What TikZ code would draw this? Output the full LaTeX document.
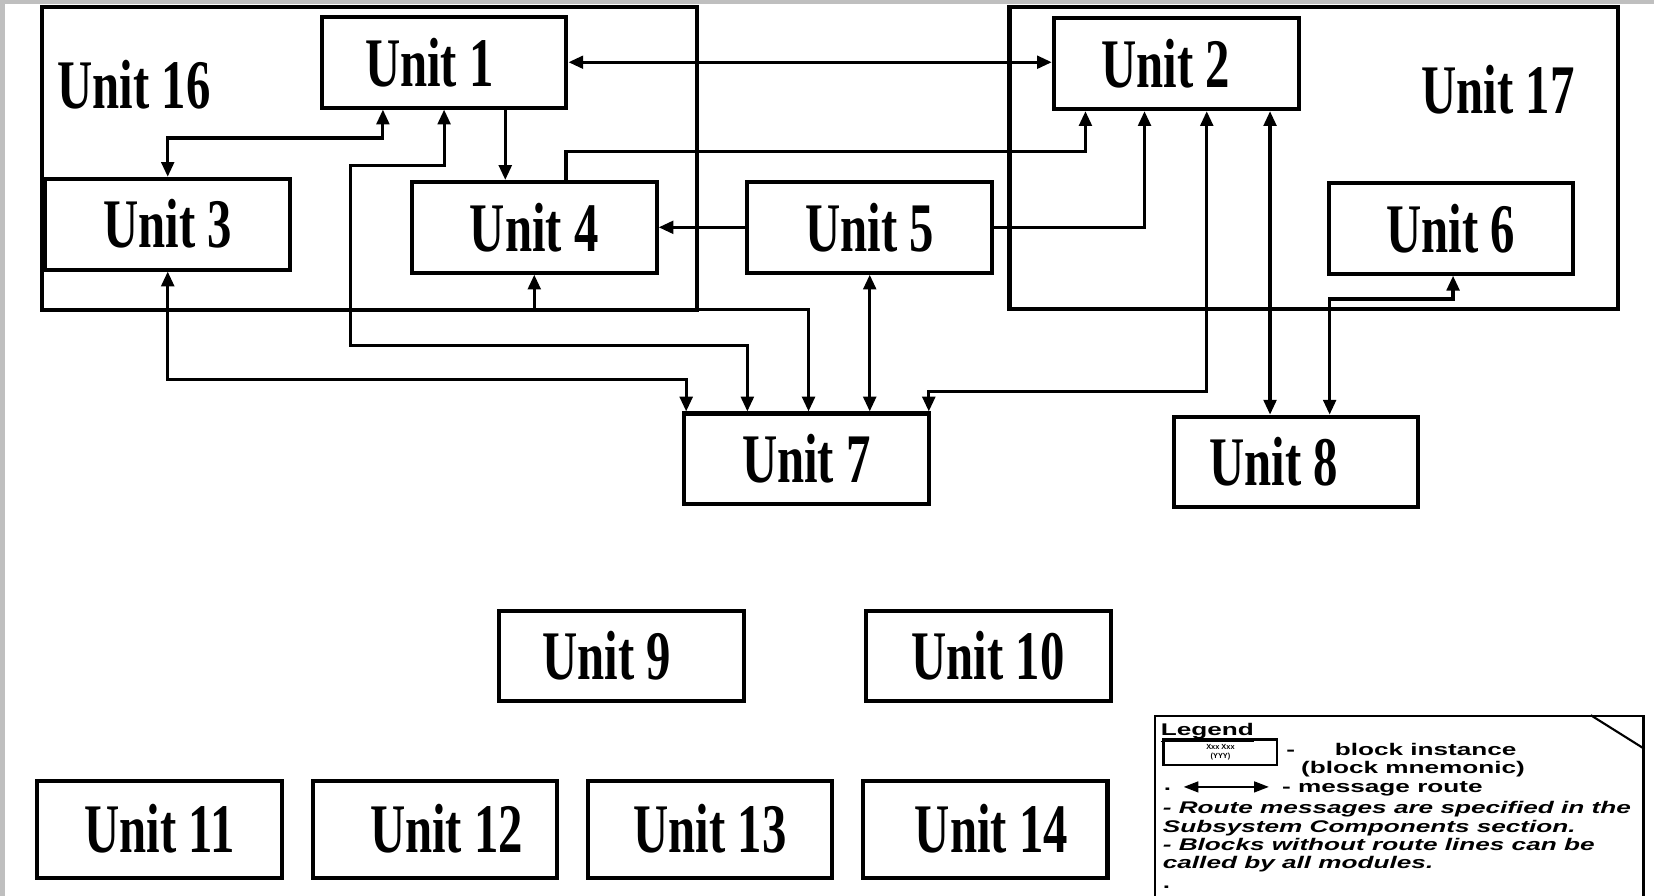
\documentclass[tikz,border=0pt]{standalone}
\usepackage{fontspec}
\setmainfont{Liberation Serif}
\newfontfamily\legendfont{Liberation Sans}
\usepackage{tikz}
\usetikzlibrary{arrows.meta,positioning}

\newcommand{\narrow}[1]{\scalebox{0.7}[1]{#1}}
\newcommand{\wide}[1]{\scalebox{1.55}[1]{#1}}

\begin{document}
\begin{tikzpicture}[
    x=0.5pt, y=-0.5pt,
    node distance=12.5pt,
    unit/.style={draw, line width=1.9pt, minimum width=116pt, minimum height=43pt,
      inner sep=0pt, font=\bfseries\fontsize{33}{36}\selectfont},
    group/.style={draw, line width=2pt, inner sep=0pt},
    grouplabel/.style={font=\bfseries\fontsize{33}{36}\selectfont},
    route/.style={line width=1.5pt},
    oneway/.style={route, -{Triangle[length=7pt,width=6pt]}},
    twoway/.style={route, {Triangle[length=7pt,width=6pt]}-{Triangle[length=7pt,width=6pt]}},
    legendtext/.style={font=\legendfont\bfseries\fontsize{8}{9}\selectfont,
      inner sep=0pt, anchor=base west}
  ]
    \useasboundingbox (0,0) rectangle (1568,849);
    \fill[white] (0,0) rectangle (1568,849);
    \fill[black!25] (0,0) rectangle (1568,4);
    \fill[black!25] (0,0) rectangle (5,849);

    % subsystem groups
    \node[group, minimum width=310.5pt, minimum height=143.5pt] (u16) at (350.5,150.5) {};
    \node[grouplabel] (u16label) at (127,80) {\narrow{Unit 16}};
    \node[group, minimum width=288.5pt, minimum height=143pt] (u17) at (1245.5,150) {};
    \node[grouplabel] (u17label) at (1420,85) {\narrow{Unit 17}};

    % blocks
    \node[unit] (u1) at (421,59) {\narrow{Unit 1}\hspace*{14pt}};
    \node[unit] (u2) at (1115,60.5) {\narrow{Unit 2}\hspace*{10pt}};
    \node[unit] (u3) at (159,212.5) {\narrow{Unit 3}};
    \node[unit] (u4) at (506.5,215.5) {\narrow{Unit 4}};
    \node[unit] (u5) at (824.5,215.5) {\narrow{Unit 5}};
    \node[unit] (u6) at (1375.5,216.5) {\narrow{Unit 6}};
    \node[unit] (u7) at (764.5,435) {\narrow{Unit 7}};
    \node[unit] (u8) at (1228.5,438) {\narrow{Unit 8}\hspace*{21pt}};
    \node[unit] (u9) at (589,622) {\narrow{Unit 9}\hspace*{14pt}};
    \node[unit, right=56pt of u9] (u10) {\narrow{Unit 10}};
    \node[unit, minimum height=46pt] (u11) at (151.5,786) {\narrow{Unit 11}};
    \node[unit, minimum height=46pt, right=of u11] (u12) {\hspace*{11pt}\narrow{Unit 12}};
    \node[unit, minimum height=46pt, right=of u12] (u13) {\narrow{Unit 13}};
    \node[unit, minimum height=46pt, right=of u13] (u14) {\hspace*{6pt}\narrow{Unit 14}};

    % message routes
    \draw[twoway] (u1.east) -- (u1.east -| u2.west);
    \draw[twoway] ([xshift=-29pt]u1.south) -- ++(0,27) -| (u3.north);
    \draw[twoway] (u1.south) -- ++(0,53) -- ++(-89,0) -- ++(0,171) -| ([xshift=-28pt]u7.north);
    \draw[oneway] ([xshift=29pt]u1.south) -- ([xshift=29pt]u1.south |- u4.north);
    \draw[oneway] ([xshift=15pt]u4.north) -- ++(0,-27) -| ([xshift=-43pt]u2.south);
    \draw[oneway] (u5.west) -- (u5.west -| u4.east);
    \draw[oneway] (u5.east) -| ([xshift=-15pt]u2.south);
    \draw[twoway] (u5.south) -- (u5.south |- u7.north);
    \draw[twoway] (u4.south) -- ++(0,33) -| ([xshift=1pt]u7.north);
    \draw[twoway] (u3.south) -- ++(0,102) -| ([xshift=-57pt]u7.north);
    \draw[twoway] ([xshift=14.5pt]u2.south) -- ++(0,266) -| ([xshift=58pt]u7.north);
    \draw[twoway] ([xshift=44.5pt]u2.south) -- ([xshift=44.5pt]u2.south |- u8.north);
    \draw[twoway] ([xshift=1pt]u6.south) -- ++(0,22) -| ([xshift=16pt]u8.north);

    % legend
    \node[draw, line width=1pt, anchor=north west, minimum width=231.5pt,
      minimum height=100pt, inner sep=0pt] (legend) at (1094,678) {};
    \draw[line width=1pt] ([xshift=-25.5pt]legend.north east) -- ([yshift=-16pt]legend.north east);
    \node[legendtext] (legendtitle) at (1100,697) {\wide{\underline{Legend}}};
    \node[draw, line width=1pt, anchor=north west, minimum width=54pt, minimum height=12pt,
      inner sep=0pt, align=center, font=\legendfont\bfseries\fontsize{3.5}{4}\selectfont]
      (sample) at (1102,700) {Xxx Xxx\\(YYY)};
    \node[legendtext] (dash) at (1219,716) {\wide{-}};
    \node[legendtext] (blockinst) at (1265,716) {\wide{block instance}};
    \node[legendtext] (mnemonic) at (1233,733) {\wide{(block mnemonic)}};
    \node[legendtext] (routedot) at (1103,749) {\wide{.}};
    \coordinate (routel) at (1122,746);
    \coordinate (router) at (1203,746);
    \draw[line width=1.2pt, {Triangle[length=7pt,width=5pt]}-{Triangle[length=7pt,width=5pt]}]
      (routel) -- (router);
    \node[legendtext] (routetxt) at (1215,751) {\wide{- message route}};
    \node[legendtext] (note1) at (1102,771) {\wide{\itshape - Route messages are specified in the}};
    \node[legendtext] (note2) at (1102,789) {\wide{\itshape Subsystem Components section.}};
    \node[legendtext] (note3) at (1102,806) {\wide{\itshape - Blocks without route lines can be}};
    \node[legendtext] (note4) at (1102,823) {\wide{\itshape called by all modules.}};
    \node[legendtext] (dot) at (1102,842) {\wide{.}};
  \end{tikzpicture}
\end{document}
